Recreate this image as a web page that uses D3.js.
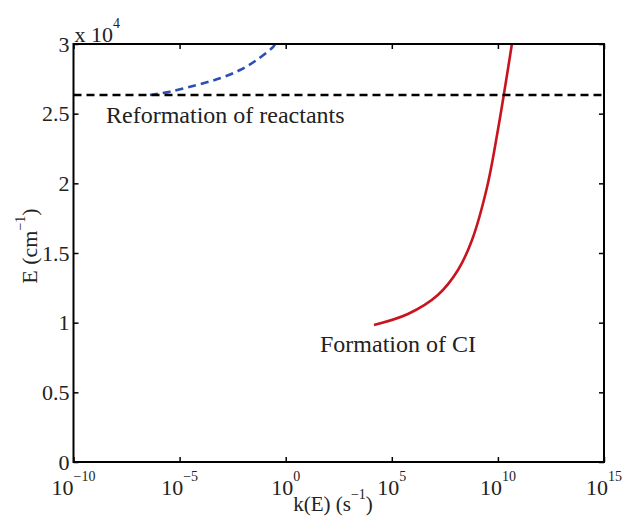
<!DOCTYPE html>
<html>
<head>
<meta charset="utf-8">
<script src="https://cdn.jsdelivr.net/npm/d3@7"></script>
<style>
  body { margin: 0; background: #fff; }
  text { font-family: "Liberation Serif", "Times New Roman", serif; fill: #222; }
</style>
</head>
<body>
<svg id="chart"></svg>
<script>
// data (log10 k, E in cm^-1)
const reformLogK = [-6.40, -5.45, -4.19, -3.10, -2.15, -1.37, -0.58, -0.50];
const reformE = [26340, 26577, 27057, 27536, 28134, 28852, 29809, 30000];
const ciLogK = [4.16, 5.76, 7.17, 8.12, 8.78, 9.49, 10.00, 10.66];
const ciE = [9833, 10622, 11986, 13780, 15933, 19737, 23828, 30000];
const thresholdE = 26340;
const xTickExp = [-10, -5, 0, 5, 10, 15];
const yTicks = [0, 5000, 10000, 15000, 20000, 25000, 30000];

const width = 626, height = 517;
const margin = { top: 44, right: 22, bottom: 55, left: 73.5 };

const svg = d3.select("#chart").attr("width", width).attr("height", height);

const x = d3.scaleLog()
    .domain([1e-10, 1e15])
    .range([margin.left, width - margin.right]);

const y = d3.scaleLinear()
    .domain([0, 30000])
    .range([height - margin.bottom, margin.top]);

const line = d3.line()
    .x(d => x(Math.pow(10, d[0])))
    .y(d => y(d[1]))
    .curve(d3.curveCatmullRom.alpha(0.5));

// curves
svg.append("path")
    .datum(reformLogK.map((k, i) => [k, reformE[i]]))
    .attr("d", line)
    .attr("fill", "none")
    .attr("stroke", "#2b4fb3")
    .attr("stroke-width", 2.6)
    .attr("stroke-dasharray", "8,5");

svg.append("path")
    .datum(ciLogK.map((k, i) => [k, ciE[i]]))
    .attr("d", line)
    .attr("fill", "none")
    .attr("stroke", "#c8141e")
    .attr("stroke-width", 2.6);

svg.append("line")
    .attr("x1", x(1e-10)).attr("x2", x(1e15))
    .attr("y1", y(thresholdE)).attr("y2", y(thresholdE))
    .attr("stroke", "#000")
    .attr("stroke-width", 2.6)
    .attr("stroke-dasharray", "8,5");

// axes (ticks pointing inward, mirrored on top/right)
const tickLen = 5;
const styleAxis = g => {
    g.select(".domain").remove();
    g.selectAll(".tick line").attr("stroke", "#000").attr("stroke-width", 1.5);
};
const xVals = xTickExp.map(e => Math.pow(10, e));

svg.append("g")
    .attr("transform", `translate(0,${y(0)})`)
    .call(d3.axisTop(x).tickValues(xVals).tickSize(tickLen).tickFormat(""))
    .call(styleAxis);
svg.append("g")
    .attr("transform", `translate(0,${y(30000)})`)
    .call(d3.axisBottom(x).tickValues(xVals).tickSize(tickLen).tickFormat(""))
    .call(styleAxis);
svg.append("g")
    .attr("transform", `translate(${x(1e-10)},0)`)
    .call(d3.axisRight(y).tickValues(yTicks).tickSize(tickLen).tickFormat(""))
    .call(styleAxis);
svg.append("g")
    .attr("transform", `translate(${x(1e15)},0)`)
    .call(d3.axisLeft(y).tickValues(yTicks).tickSize(tickLen).tickFormat(""))
    .call(styleAxis);

svg.append("rect")
    .attr("x", x(1e-10)).attr("y", y(30000))
    .attr("width", x(1e15) - x(1e-10)).attr("height", y(0) - y(30000))
    .attr("fill", "none").attr("stroke", "#000").attr("stroke-width", 2);

// x tick labels 10^n
const xl = svg.append("g").selectAll("text")
    .data(xTickExp)
    .join("text")
    .attr("x", d => x(Math.pow(10, d)))
    .attr("y", y(0) + 33)
    .attr("text-anchor", "middle")
    .attr("font-size", 22);
xl.append("tspan").text("10");
xl.append("tspan")
    .attr("dy", -14)
    .attr("font-size", 14)
    .text(d => (d < 0 ? "\u2212" : "") + Math.abs(d));

// y tick labels
svg.append("g").selectAll("text")
    .data(yTicks)
    .join("text")
    .attr("x", x(1e-10) - 4)
    .attr("y", d => y(d))
    .attr("dy", "0.35em")
    .attr("text-anchor", "end")
    .attr("font-size", 22)
    .text(d => d3.format("~g")(d / 10000));

// exponent multiplier
const mult = svg.append("text")
    .attr("x", x(1e-10) + 1)
    .attr("y", margin.top - 2)
    .attr("font-size", 22);
mult.append("tspan").text("x 10");
mult.append("tspan").attr("dy", -14).attr("font-size", 14).text("4");

// axis titles
const xt = svg.append("text")
    .attr("x", 333)
    .attr("y", 511)
    .attr("text-anchor", "middle")
    .attr("font-size", 21);
xt.append("tspan").text("k(E) (s");
xt.append("tspan").attr("dy", -12).attr("font-size", 14).text("\u22121");
xt.append("tspan").attr("dy", 12).text(")");

const yt = svg.append("text")
    .attr("transform", `translate(37,246) rotate(-90)`)
    .attr("text-anchor", "middle")
    .attr("font-size", 22);
yt.append("tspan").text("E (cm");
yt.append("tspan").attr("dy", -12).attr("font-size", 14).text("\u22121");
yt.append("tspan").attr("dy", 12).text(")");

// annotations
svg.append("text")
    .attr("x", 106).attr("y", 123)
    .attr("font-size", 24)
    .text("Reformation of reactants");

svg.append("text")
    .attr("x", 320).attr("y", 352)
    .attr("font-size", 24)
    .text("Formation of CI");
</script>
</body>
</html>
